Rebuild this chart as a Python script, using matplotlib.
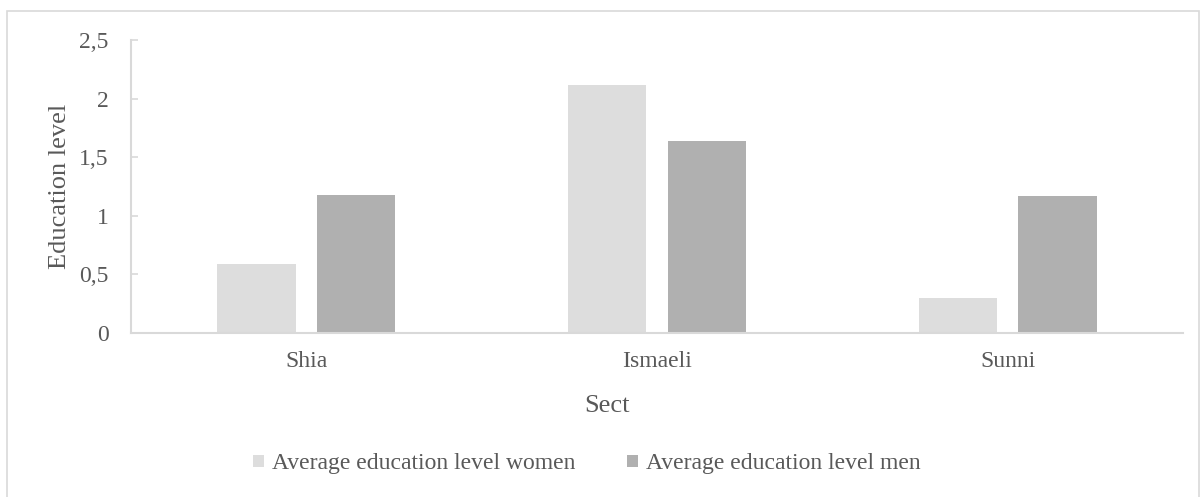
import matplotlib
matplotlib.use("Agg")
import matplotlib.pyplot as plt
import numpy as np
from matplotlib.patches import Rectangle
from matplotlib.ticker import FuncFormatter

sects = ["Shia", "Ismaeli", "Sunni"]
women = [0.59, 2.12, 0.30]
men = [1.18, 1.64, 1.17]
series_names = ["Average education level women", "Average education level men"]

plt.rcParams['font.family'] = ['Liberation Serif', 'DejaVu Serif']
txt = '#595959'
grid_c = '#d9d9d9'

fig = plt.figure(figsize=(12, 4.97), dpi=100)
ax = fig.add_axes([131 / 1200, 1 - 333 / 497, (1183 - 131) / 1200, (333 - 40) / 497])

x = np.arange(len(sects))
w = 0.223
off = 0.142
ax.bar(x - off, women, w, color='#dddddd', label=series_names[0], zorder=2)
ax.bar(x + off, men, w, color='#b0b0b0', label=series_names[1], zorder=2)

ax.set_xlim(-0.5, 2.5)
ax.set_ylim(0, 2.5)
ax.set_yticks([0, 0.5, 1, 1.5, 2, 2.5])
ax.yaxis.set_major_formatter(FuncFormatter(lambda v, p: f"{v:g}".replace('.', ',')))
ax.set_xticks(x)
ax.set_xticklabels(sects)

for s in ['top', 'right']:
    ax.spines[s].set_visible(False)
for s in ['left', 'bottom']:
    ax.spines[s].set_color(grid_c)
    ax.spines[s].set_linewidth(1.5)

ax.tick_params(axis='y', direction='in', colors=grid_c, labelcolor=txt, labelsize=17,
               length=5, width=1.2, pad=16)
ax.tick_params(axis='x', length=0, labelcolor=txt, labelsize=17, pad=13)

ax.set_ylabel("Education level", color=txt, fontsize=19, va='center')
ax.yaxis.set_label_coords(-0.0675, 0.5)
ax.set_xlabel("Sect", color=txt, fontsize=19, va='center')
ax.xaxis.set_label_coords((607 - 131) / 1052, (333 - 406) / 293)

leg = fig.legend(loc='center', bbox_to_anchor=(587 / 1200, 1 - 464 / 497), ncol=2, frameon=False,
                 fontsize=17, handlelength=0.45, handleheight=0.45, handletextpad=0.35,
                 columnspacing=2.2, borderpad=0, borderaxespad=0)
for t in leg.get_texts():
    t.set_color(txt)

fig.add_artist(Rectangle((7 / 1200, -0.01), 1192 / 1200, 1 - 11 / 497 + 0.01, transform=fig.transFigure,
                         fill=False, edgecolor=grid_c, linewidth=1.2))

fig.savefig("out.png", dpi=100)
